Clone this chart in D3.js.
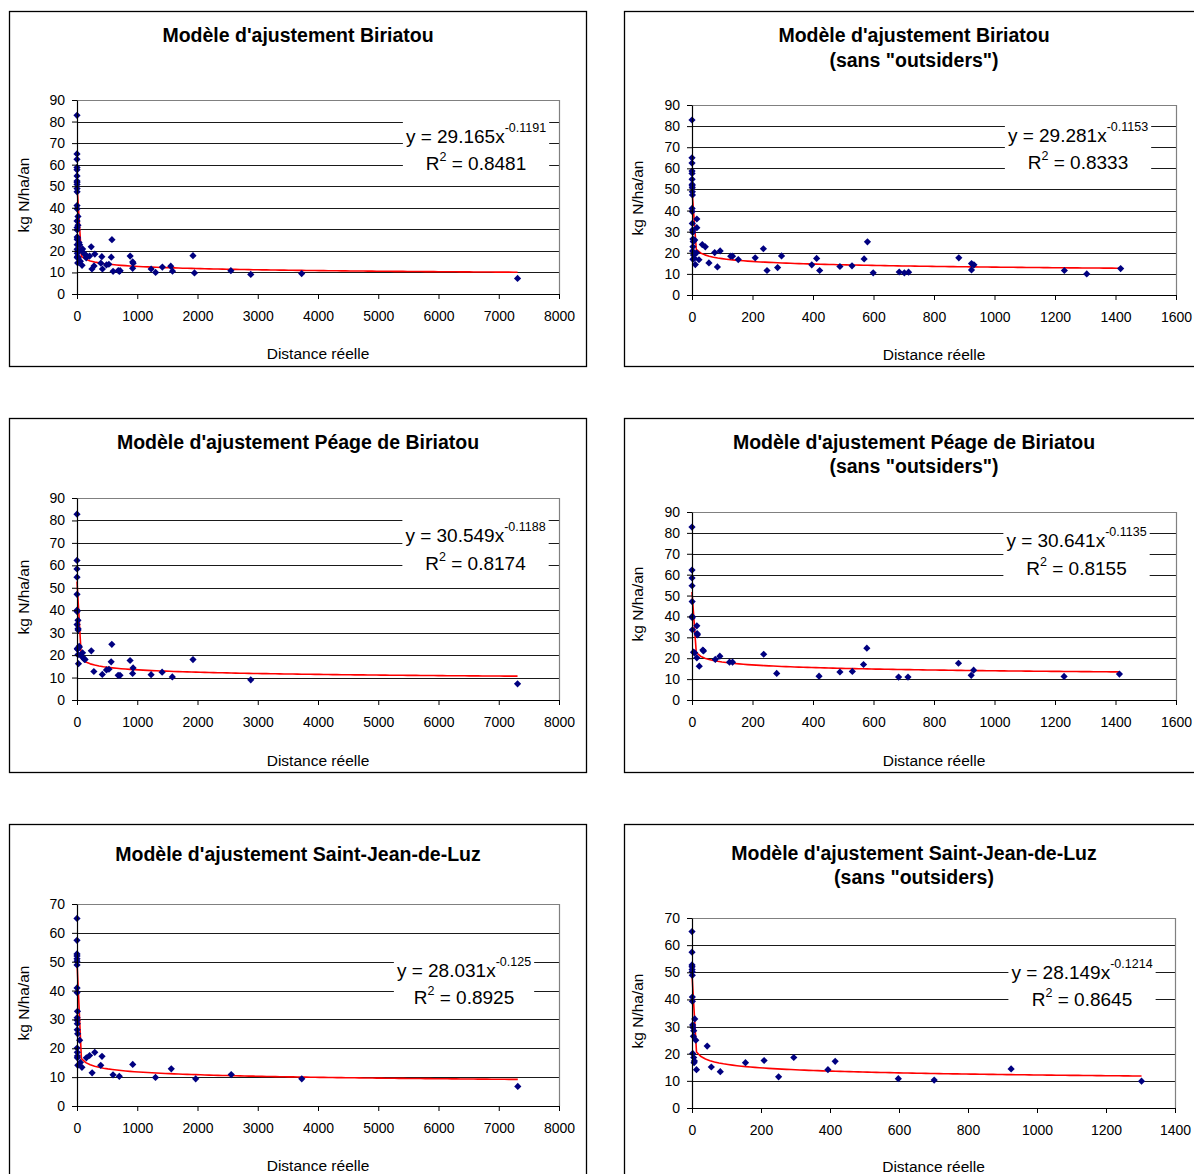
<!DOCTYPE html>
<html>
<head>
<meta charset="utf-8">
<script src="https://cdn.jsdelivr.net/npm/d3@7"></script>
<style>
  html, body { margin: 0; padding: 0; background: #fff; }
  svg { display: block; font-family: "Liberation Sans", Arial, sans-serif; }
</style>
</head>
<body>
<script>
// Measured N deposition (kg N/ha/an) against real distance, three sites.
// Each site: points kept in the reduced fit ("core") and distant points ("outsiders").
const biriatouCore = [
  [0.01, 82.9], [0.02, 65], [0.05, 62.5], [0.1, 58.7], [0.2, 57.6], [0.3, 54.8],
  [0.5, 52.4], [0.6, 51.8], [1, 50.8], [1.2, 48.9], [1.5, 47.4], [0.4, 41],
  [0.8, 39.5], [1, 33.9], [2, 30.8], [2.5, 29.7], [3, 26.5], [4, 25.3], [3, 22.9],
  [2, 20.8], [5, 18.9], [8, 17.4], [3, 16.9], [11, 14.4], [16, 36], [16, 31.9],
  [15, 20], [9, 26], [23, 16.7], [34, 23.9], [44, 22.8], [56, 15.2], [75, 20.1],
  [84, 13.3], [93, 20.9], [128, 18.4], [134, 18.4], [153, 16.8], [209, 17.6],
  [236, 21.9], [248, 11.6], [283, 13], [296, 18.5], [396, 14.3], [412, 17.3],
  [422, 11.6], [489, 13.5], [529, 13.8], [569, 17.1], [580, 25.2], [599, 10.5],
  [685, 10.9], [702, 10.5], [716, 10.8], [882, 17.6], [924, 14.9], [924, 11.9],
  [932, 14.3], [1231, 11.6], [1305, 10], [1417, 12.5]
];
const biriatouOutsiders = [
  [1556, 12.9], [1585, 10.6], [1925, 17.8], [1950, 9.8], [2554, 10.8],
  [2884, 9.1], [3729, 9.5], [7312, 7.2]
];
const peageCore = [
  [0.01, 82.8], [0.05, 62.2], [0.1, 58.4], [0.2, 54.7], [0.5, 47.1], [0.8, 40],
  [1, 39.4], [1.5, 33.6], [16, 35.5], [17, 31.8], [18, 31.2], [5, 22.9], [9, 22.6],
  [16, 20.2], [24, 16.2], [36, 23.9], [38, 23.5], [77, 19.4], [92, 21], [124, 18.1],
  [134, 18.1], [237, 21.9], [280, 12.7], [420, 11.4], [489, 13.4], [530, 13.7],
  [567, 17], [578, 24.8], [683, 11], [714, 11], [881, 17.6], [923, 11.8],
  [931, 14.3], [1230, 11.3], [1413, 12.4]
];
const peageOutsiders = [
  [1582, 10.3], [1925, 18], [2884, 9], [7312, 7.2]
];
const sjlCore = [
  [0.01, 65], [0.05, 57.4], [0.1, 52.7], [0.2, 52], [0.3, 51], [0.5, 50.2],
  [0.8, 48.9], [1, 40.9], [1.2, 39.3], [2, 30.6], [3, 29.7], [5, 28.5], [8, 32.8],
  [4, 26.4], [11, 25], [2, 20.1], [5, 18.6], [7, 17.3], [6, 16.7], [13, 14.1],
  [44, 22.8], [56, 15.1], [82, 13.4], [155, 16.7], [209, 17.5], [251, 11.5],
  [295, 18.6], [394, 14.1], [415, 17.2], [598, 10.8], [702, 10.3], [925, 14.4],
  [1303, 9.9]
];
const sjlOutsiders = [
  [1565, 12.9], [1970, 9.4], [2560, 10.9], [3731, 9.4], [7316, 6.8]
];

// Chart texts and fitted power models y = a·x^b
const titles = [
  ["Modèle d'ajustement Biriatou"],
  ["Modèle d'ajustement Biriatou", "(sans \"outsiders\")"],
  ["Modèle d'ajustement Péage de Biriatou"],
  ["Modèle d'ajustement Péage de Biriatou", "(sans \"outsiders\")"],
  ["Modèle d'ajustement Saint-Jean-de-Luz"],
  ["Modèle d'ajustement Saint-Jean-de-Luz", "(sans \"outsiders)"]
];
const fitA = ["29.165", "29.281", "30.549", "30.641", "28.031", "28.149"];
const fitB = ["-0.1191", "-0.1153", "-0.1188", "-0.1135", "-0.125", "-0.1214"];
const fitR2 = ["0.8481", "0.8333", "0.8174", "0.8155", "0.8925", "0.8645"];
const xMax = [8000, 1600, 8000, 1600, 8000, 1400];
const xStep = [1000, 200, 1000, 200, 1000, 200];
const yMax = [90, 90, 90, 90, 70, 70];
const yStep = 10;
const xAxisTitle = "Distance réelle";
const yAxisTitle = "kg N/ha/an";

const panelData = [
  biriatouCore.concat(biriatouOutsiders), biriatouCore,
  peageCore.concat(peageOutsiders), peageCore,
  sjlCore.concat(sjlOutsiders), sjlCore
];

// Page geometry of each chart frame
const layout = [
  { box: [9.5, 11.5, 577, 355],  plot: [77, 559, 100, 294],   title: [42],          xTitle: 358.5,  yTitleX: 29,  eq: [476, 143, 170] },
  { box: [624.5, 11.5, 580, 355], plot: [692, 1176, 105, 295], title: [41.5, 66.5],  xTitle: 359.5,  yTitleX: 643, eq: [1078, 141.5, 169] },
  { box: [9.5, 418.5, 577, 354], plot: [77, 559, 498, 700],   title: [449],         xTitle: 765.5,  yTitleX: 29,  eq: [475.5, 542, 570] },
  { box: [624.5, 418.5, 580, 354], plot: [692, 1176, 512, 700], title: [449, 473],  xTitle: 765.5,  yTitleX: 643, eq: [1076.5, 547, 575] },
  { box: [9.5, 824.5, 577, 360], plot: [77, 559, 904, 1106],  title: [860.5],       xTitle: 1170.5, yTitleX: 29,  eq: [464, 977, 1003.5] },
  { box: [624.5, 824.5, 580, 360], plot: [692, 1175, 918, 1108], title: [860, 883.5], xTitle: 1171.5, yTitleX: 643, eq: [1082, 978.5, 1005.5] }
];

const W = 1194, H = 1174;
const svg = d3.select("body").append("svg").attr("width", W).attr("height", H);

// Excel-style diamond marker (square turned 45°)
const diamond = {
  draw(ctx, size) {
    const r = Math.sqrt(size / 2);
    ctx.moveTo(0, -r); ctx.lineTo(r, 0); ctx.lineTo(0, r); ctx.lineTo(-r, 0); ctx.closePath();
  }
};

layout.forEach((L, i) => {
  const g = svg.append("g");
  const [px0, px1, pyTop, pyBot] = L.plot;
  const data = panelData[i];

  // chart frame
  g.append("rect")
    .attr("x", L.box[0]).attr("y", L.box[1])
    .attr("width", L.box[2]).attr("height", L.box[3])
    .attr("fill", "#fff").attr("stroke", "#000").attr("stroke-width", 1.3);

  const x = d3.scaleLinear().domain([0, xMax[i]]).range([px0, px1]);
  const y = d3.scaleLinear().domain([0, yMax[i]]).range([pyBot, pyTop]);
  const xTicks = d3.range(0, xMax[i] + 1, xStep[i]);
  const yTicks = d3.range(0, yMax[i] + 1, yStep);

  // horizontal gridlines
  g.append("g").selectAll("line")
    .data(yTicks.filter(v => v > 0 && v < yMax[i]))
    .join("line")
    .attr("x1", px0).attr("x2", px1)
    .attr("y1", d => Math.round(y(d)) + 0.5).attr("y2", d => Math.round(y(d)) + 0.5)
    .attr("stroke", "#1a1a1a").attr("stroke-width", 1);

  // plot-area outline (top and right)
  g.append("path")
    .attr("d", `M${px0},${pyTop + 0.5}H${px1 + 0.5}V${pyBot}`)
    .attr("fill", "none").attr("stroke", "#808080").attr("stroke-width", 1.2);

  // power trendline y = a·x^b, sampled over the data range
  const a = +fitA[i], b = +fitB[i];
  const xs = data.map(d => d[0]);
  const xmin = d3.min(xs), xmaxData = d3.max(xs);
  const n = 100;
  const curve = d3.range(n + 1).map(k => {
    const xv = xmin + (xmaxData - xmin) * k / n;
    return [xv, a * Math.pow(xv, b)];
  });
  g.append("path")
    .datum(curve)
    .attr("d", d3.line().x(d => x(d[0])).y(d => y(d[1])))
    .attr("fill", "none").attr("stroke", "#ff0000").attr("stroke-width", 1.6)
    .attr("stroke-linejoin", "round");

  // data points
  g.append("g").selectAll("path")
    .data(data)
    .join("path")
    .attr("transform", d => `translate(${x(d[0])},${y(d[1])})`)
    .attr("d", d3.symbol().type(diamond).size(26))
    .attr("fill", "#000080");

  // axes
  const xAxis = g.append("g").attr("transform", `translate(0,${pyBot})`)
    .call(d3.axisBottom(x).tickValues(xTicks).tickFormat(d3.format("d"))
      .tickSize(5).tickSizeOuter(0).tickPadding(12));
  const yAxis = g.append("g").attr("transform", `translate(${px0},0)`)
    .call(d3.axisLeft(y).tickValues(yTicks).tickFormat(d3.format("d"))
      .tickSize(5).tickSizeOuter(0).tickPadding(7));
  [xAxis, yAxis].forEach(ax => {
    ax.select(".domain").attr("stroke", "#000").attr("stroke-width", 1.2);
    ax.selectAll(".tick line").attr("stroke", "#000");
    ax.selectAll(".tick text").attr("fill", "#000")
      .style("font-family", "'Liberation Sans', Arial, sans-serif").style("font-size", "14px");
  });

  // titles
  titles[i].forEach((t, k) => {
    g.append("text")
      .attr("x", i % 2 === 0 ? 298 : 914).attr("y", L.title[k])
      .attr("text-anchor", "middle")
      .attr("font-size", 19.5).attr("font-weight", "bold")
      .text(t);
  });
  g.append("text")
    .attr("x", (px0 + px1) / 2).attr("y", L.xTitle)
    .attr("text-anchor", "middle").attr("font-size", 15.5)
    .text(xAxisTitle);
  g.append("text")
    .attr("transform", `translate(${L.yTitleX},${(pyTop + pyBot) / 2 - 2}) rotate(-90)`)
    .attr("text-anchor", "middle").attr("font-size", 15.5)
    .text(yAxisTitle);

  // trendline equation label on a white box
  const eg = g.append("g");
  const bg = eg.append("rect").attr("fill", "#fff");
  const t1 = eg.append("text").attr("x", L.eq[0]).attr("y", L.eq[1])
    .attr("text-anchor", "middle").attr("font-size", 19);
  t1.append("tspan").text(`y = ${fitA[i]}x`);
  t1.append("tspan").attr("dy", -11).attr("font-size", 12.5).text(fitB[i]);
  const t2 = eg.append("text").attr("x", L.eq[0]).attr("y", L.eq[2])
    .attr("text-anchor", "middle").attr("font-size", 19);
  t2.append("tspan").text("R");
  t2.append("tspan").attr("dy", -9).attr("font-size", 12.5).text("2");
  t2.append("tspan").attr("dy", 9).text(` = ${fitR2[i]}`);
  const b1 = t1.node().getBBox(), b2 = t2.node().getBBox();
  const bx0 = Math.min(b1.x, b2.x) - 3, bx1 = Math.max(b1.x + b1.width, b2.x + b2.width) + 3;
  const by0 = b1.y - 2, by1 = b2.y + b2.height + 2;
  bg.attr("x", bx0).attr("y", by0).attr("width", bx1 - bx0).attr("height", by1 - by0);
});
</script>
</body>
</html>
